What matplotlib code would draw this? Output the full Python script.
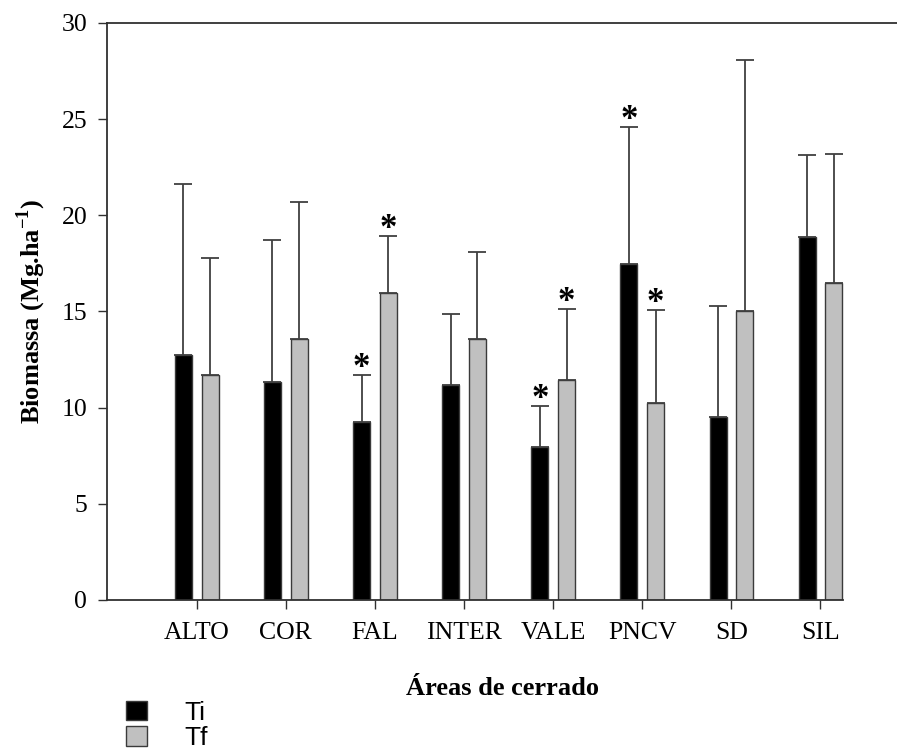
import numpy as np
import matplotlib
matplotlib.use("Agg")
import matplotlib.pyplot as plt
from matplotlib.patches import Patch

plt.rcParams['font.family'] = 'Liberation Serif'
plt.rcParams['mathtext.fontset'] = 'custom'
plt.rcParams['mathtext.rm'] = 'Liberation Serif'
plt.rcParams['mathtext.bf'] = 'Liberation Serif:bold'

areas = ['ALTO', 'COR', 'FAL', 'INTER', 'VALE', 'PNCV', 'SD', 'SIL']
ti_mean = [12.76, 11.31, 9.23, 11.20, 7.97, 17.49, 9.49, 18.87]
ti_top = [21.65, 18.70, 11.69, 14.89, 10.08, 24.59, 15.29, 23.13]   # mean + sd
tf_mean = [11.72, 13.56, 15.98, 13.56, 11.46, 10.22, 15.01, 16.48]
tf_top = [17.78, 20.69, 18.91, 18.10, 15.13, 15.06, 28.09, 23.18]
ti_sig = [False, False, True, False, True, True, False, False]
tf_sig = [False, False, True, False, True, True, False, False]

fig = plt.figure(figsize=(8.97, 7.51), dpi=100)
ax = fig.add_axes([0.1198, 0.2011, 0.8802, 0.7683])

x = np.arange(1, len(areas) + 1)
w = 0.19
edge = '#3a3a3a'

ti_err = np.array(ti_top) - np.array(ti_mean)
tf_err = np.array(tf_top) - np.array(tf_mean)
lo = np.zeros(len(areas))

ax.bar(x - 0.148, ti_mean, w, color='black', edgecolor=edge, linewidth=1.0,
       yerr=[lo, ti_err], error_kw=dict(ecolor='#404040', elinewidth=1.3, capsize=6.2, capthick=1.3))
ax.bar(x + 0.152, tf_mean, w, color='#c0c0c0', edgecolor=edge, linewidth=1.0,
       yerr=[lo, tf_err], error_kw=dict(ecolor='#404040', elinewidth=1.3, capsize=6.2, capthick=1.3))

# asterisks mark significant differences
for i in range(len(areas)):
    if ti_sig[i]:
        ax.annotate('*', (x[i] - 0.148, ti_top[i]), xytext=(0, -7), textcoords='offset points',
                    ha='center', va='bottom', fontsize=25, fontweight='bold')
    if tf_sig[i]:
        ax.annotate('*', (x[i] + 0.152, tf_top[i]), xytext=(0, -7), textcoords='offset points',
                    ha='center', va='bottom', fontsize=25, fontweight='bold')

ax.set_xlim(0, 8.86)
ax.set_ylim(0, 30)
ax.set_xticks(x)
ax.set_xticklabels(areas)
ax.set_yticks(np.arange(0, 31, 5))
ax.tick_params(direction='out', length=6.5, width=1.0, labelsize=18.5, color='#303030')
ax.tick_params(axis='y', pad=8)
ax.tick_params(axis='x', pad=9)
ax.spines['right'].set_visible(False)
ax.spines['bottom'].set_bounds(0, 8.255)
for s in ['left', 'bottom', 'top']:
    ax.spines[s].set_color('#303030')
    ax.spines[s].set_linewidth(1.3)

ax.set_xlabel('Áreas de cerrado', fontsize=19, fontweight='bold', labelpad=24)
ax.set_ylabel(r'Biomassa (Mg.ha$^{\mathbf{-1}}$)', fontsize=19, fontweight='bold', labelpad=10)

handles = [Patch(facecolor='black', edgecolor=edge), Patch(facecolor='#c0c0c0', edgecolor=edge)]
fig.legend(handles, ['Ti', 'Tf'], loc='upper left', bbox_to_anchor=(0.141, 0.067),
           frameon=False, prop={'family': 'Liberation Sans', 'size': 19},
           handlelength=0.76, handleheight=0.76, handletextpad=1.45, labelspacing=0.06,
           borderpad=0, borderaxespad=0)

fig.savefig('out.png', dpi=100)
